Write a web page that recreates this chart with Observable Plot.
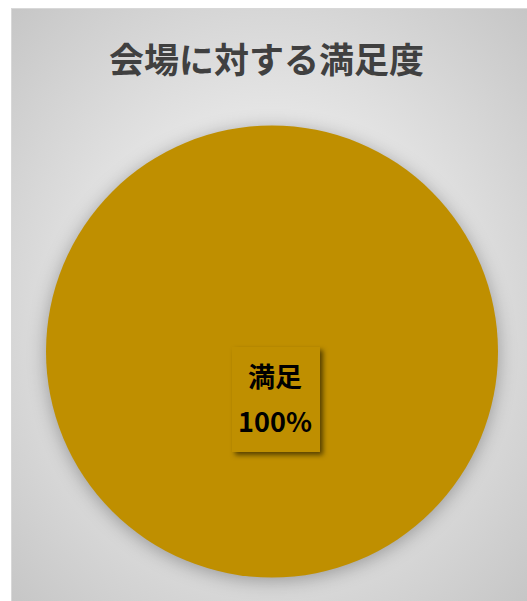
<!DOCTYPE html>
<html>
<head>
<meta charset="utf-8">
<script src="https://cdn.jsdelivr.net/npm/d3@7"></script>
<script src="https://cdn.jsdelivr.net/npm/@observablehq/plot@0.6"></script>
<style>
  html, body { margin: 0; padding: 0; background: #ffffff; }
  #chart {
    position: absolute; left: 11px; top: 8px; width: 516px; height: 593px;
    background: radial-gradient(ellipse farthest-corner at 50% 50%, #f1f1f1 0%, #e5e5e5 45%, #c6c6c6 100%);
    box-shadow: inset 1px 1px 0 #d8d8d8;
    overflow: hidden;
  }
  #title {
    position: absolute; left: 0; top: 32px; width: 511px; text-align: center;
    font-family: "Noto Sans CJK JP", sans-serif; font-weight: bold; font-size: 35px;
    line-height: 35px; color: #404040;
  }
  #plot { position: absolute; left: 0; top: 100px; }
</style>
</head>
<body>
<div id="chart">
  <div id="title">会場に対する満足度</div>
  <div id="plot"></div>
</div>
<script>
const categories = ["満足"];
const values = [100];
const colors = ["#BF8F00"];

const total = d3.sum(values);
const slices = d3.pie().sort(null)(values).map((s, i) => ({
  category: categories[i],
  value: values[i],
  share: values[i] / total,
  label: Math.round(values[i] / total * 100) + "%",
  color: colors[i]
}));

const W = 516, H = 493;
const R = 226;
const plot = Plot.plot({
  width: W,
  height: H,
  marginLeft: 5, marginRight: 0, marginTop: 0, marginBottom: 7,
  x: { domain: [-255.5, 255.5], axis: null },
  y: { domain: [-243, 243], axis: null },
  r: { type: "linear", domain: [0, 1], range: [0, R] },
  style: { background: "transparent", fontFamily: "'Noto Sans CJK JP', sans-serif" },
  marks: [
    Plot.dot(slices, { x: () => 0, y: () => 0, r: "share", fill: "color", stroke: null }),
    Plot.rect(slices, { x1: () => -39.5, x2: () => 48.5, y1: () => 4, y2: () => -101, fill: "color" }),
    Plot.text(slices, { x: () => 0, y: () => 0, dx: 3, dy: 27, text: "category", fontSize: 27, fontWeight: "bold", fill: "#000000" }),
    Plot.text(slices, { x: () => 0, y: () => 0, dx: 3, dy: 72, text: "label", fontSize: 27, fontWeight: "bold", fill: "#000000" })
  ]
});
d3.select(plot).selectAll("g[aria-label=dot]").style("filter", "drop-shadow(0px 3px 9px rgba(0,0,0,0.30))");
d3.select(plot).selectAll("g[aria-label=rect]").style("filter", "drop-shadow(3px 3px 2.5px rgba(0,0,0,0.55))");
document.getElementById("plot").appendChild(plot);
</script>
</body>
</html>
